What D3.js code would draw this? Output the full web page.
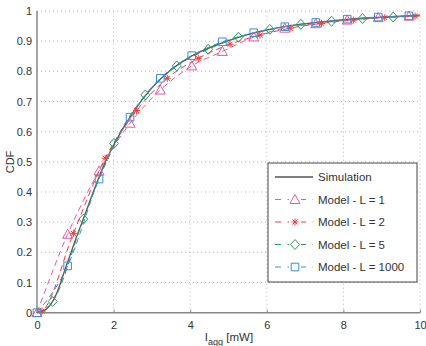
<!DOCTYPE html>
<html><head><meta charset="utf-8">
<script src="https://cdn.jsdelivr.net/npm/d3@7"></script>
<style>body{margin:0;background:#fff}svg{display:block}text{font-family:"Liberation Sans",Arial,Helvetica,sans-serif}</style>
</head><body>
<svg id="c" width="426" height="346"></svg>
<script>
const xTicks = [0, 2, 4, 6, 8, 10];
const yTicks = [0, 0.1, 0.2, 0.3, 0.4, 0.5, 0.6, 0.7, 0.8, 0.9, 1];

const simX = [0, 0.25, 0.5, 0.75, 1.0, 1.25, 1.5, 1.75, 2.0, 2.5, 3.0, 3.5, 4.0, 4.5, 5.0, 5.5, 6.0, 6.5, 7.0, 7.5, 8.0, 8.5, 9.0, 9.5, 10];
const simY = [0, 0.012, 0.06, 0.15, 0.24, 0.325, 0.41, 0.49, 0.555, 0.662, 0.745, 0.805, 0.848, 0.878, 0.902, 0.922, 0.937, 0.949, 0.958, 0.965, 0.971, 0.976, 0.980, 0.983, 0.986];

const l1X = [0, 0.80, 1.62, 2.43, 3.22, 4.04, 4.84, 5.66, 6.47, 7.28, 8.10, 8.91, 9.71];
const l1Y = [0, 0.26, 0.47, 0.628, 0.738, 0.818, 0.866, 0.914, 0.943, 0.958, 0.970, 0.978, 0.983];
const l2X = [0.13, 0.95, 1.78, 2.60, 3.40, 4.21, 5.04, 5.82, 6.61, 7.43, 8.26, 9.08, 9.87];
const l2Y = [0.005, 0.263, 0.512, 0.670, 0.777, 0.843, 0.89, 0.920, 0.943, 0.959, 0.970, 0.978, 0.983];
const l5X = [0.41, 1.21, 2.01, 2.83, 3.65, 4.47, 5.26, 6.08, 6.89, 7.69, 8.50, 9.30];
const l5Y = [0.037, 0.31, 0.561, 0.722, 0.818, 0.873, 0.913, 0.939, 0.956, 0.966, 0.975, 0.980];
const l1000X = [0, 0.80, 1.62, 2.43, 3.22, 4.04, 4.84, 5.66, 6.47, 7.28, 8.10, 8.91, 9.71];
const l1000Y = [0, 0.155, 0.443, 0.648, 0.777, 0.852, 0.898, 0.928, 0.948, 0.962, 0.973, 0.980, 0.984];
// line end values at x = 10
const endAt10 = [0.985, 0.985, 0.984, 0.986];

const names = ["Simulation", "Model - L = 1", "Model - L = 2", "Model - L = 5", "Model - L = 1000"];
const colors = ["#555555", "#e55aa2", "#ee3a3a", "#2e9a5a", "#3a8fd6"];
const shapes = [null, "triangle", "star", "diamond", "square"];

const svg = d3.select("#c");
const x = d3.scaleLinear().domain([0, 10]).range([37, 420]);
const y = d3.scaleLinear().domain([0, 1]).range([312.7, 11]);

// grid
const g = svg.append("g");
g.selectAll(".gx").data(xTicks.filter(d => d > 0)).enter().append("line")
  .attr("x1", d => x(d)).attr("x2", d => x(d)).attr("y1", y(0)).attr("y2", y(1))
  .attr("stroke", "#b8b8b8").attr("stroke-width", 1).attr("stroke-dasharray", "1,3");
g.selectAll(".gy").data(yTicks.filter(d => d > 0)).enter().append("line")
  .attr("x1", x(0)).attr("x2", x(10)).attr("y1", d => y(d)).attr("y2", d => y(d))
  .attr("stroke", "#b8b8b8").attr("stroke-width", 1).attr("stroke-dasharray", "1,3");

// axes
const xAxis = d3.axisBottom(x).tickValues(xTicks).tickSize(3).tickFormat(d3.format("d"));
const yAxis = d3.axisLeft(y).tickValues(yTicks).tickSize(0).tickPadding(5).tickFormat(d => d === 0 ? "0" : d === 1 ? "1" : d3.format(".1f")(d));
const gx = svg.append("g").attr("transform", `translate(0,${y(0)})`).call(xAxis);
const gy = svg.append("g").attr("transform", `translate(${x(0)},0)`).call(yAxis);
gx.selectAll(".tick line").attr("y2", -3).attr("stroke", "#888");
[gx, gy].forEach(a => {
  a.select(".domain").attr("stroke", "#888").attr("stroke-width", 1.5);
  a.selectAll("text").attr("fill", "#333").style("font-size", "11px").style("font-family", "Liberation Sans, Arial, sans-serif");
});
gx.selectAll("text").attr("dy", "0.9em");
gx.select(".domain").attr("d", `M${x(0)},0H${x(10)}`);
gy.select(".domain").attr("d", `M0,${y(0)}V${y(1)}`);

// axis labels
svg.append("text").attr("transform", "translate(14,162) rotate(-90)").attr("text-anchor", "middle")
  .attr("fill", "#333").style("font-size", "11px").text("CDF");
const xl = svg.append("text").attr("x", 229).attr("y", 341).attr("text-anchor", "middle")
  .attr("fill", "#333").style("font-size", "11.5px");
xl.append("tspan").text("I");
xl.append("tspan").attr("dy", 4).style("font-size", "9px").text("agg");
xl.append("tspan").attr("dy", -4).text(" [mW]");

// marker symbols
function symPath(shape) {
  if (shape === "triangle") return "M0,-5L5,4L-5,4Z";
  if (shape === "square") return "M-3.8,-3.8H3.8V3.8H-3.8Z";
  if (shape === "diamond") return "M0,-5L4.5,0L0,5L-4.5,0Z";
  if (shape === "star") return "M-3.5,0H3.5M0,-3.5V3.5M-2.5,-2.5L2.5,2.5M-2.5,2.5L2.5,-2.5";
  return "";
}

const line = d3.line().x(d => x(d[0])).y(d => y(d[1])).curve(d3.curveMonotoneX);
const plot = svg.append("g");

// simulation
plot.append("path").datum(d3.zip(simX, simY)).attr("d", line)
  .attr("fill", "none").attr("stroke", colors[0]).attr("stroke-width", 1.3);

const models = [[l1X, l1Y], [l2X, l2Y], [l5X, l5Y], [l1000X, l1000Y]];
models.forEach((m, i) => {
  let pts = d3.zip(m[0], m[1]);
  if (pts[0][0] > 0) pts = [[0, 0]].concat(pts);
  pts = pts.concat([[10, endAt10[i]]]);
  plot.append("path").datum(pts).attr("d", line)
    .attr("fill", "none").attr("stroke", colors[i + 1]).attr("stroke-width", 1).attr("stroke-dasharray", "6,4");
});
models.forEach((m, i) => {
  plot.selectAll(null).data(d3.zip(m[0], m[1])).enter().append("path")
    .attr("transform", d => `translate(${x(d[0])},${y(d[1])})`)
    .attr("d", symPath(shapes[i + 1]))
    .attr("fill", "none").attr("stroke", colors[i + 1]).attr("stroke-width", 1);
});

// legend
const lg = svg.append("g");
lg.append("rect").attr("x", 268).attr("y", 163).attr("width", 149).attr("height", 119)
  .attr("fill", "#fff").attr("stroke", "#444").attr("stroke-width", 1);
names.forEach((n, i) => {
  const yy = 177 + i * 22.5;
  const row = lg.append("g");
  if (i === 0) {
    row.append("line").attr("x1", 275).attr("x2", 313).attr("y1", yy).attr("y2", yy)
      .attr("stroke", colors[0]).attr("stroke-width", 1.3);
  } else {
    row.append("line").attr("x1", 275).attr("x2", 313).attr("y1", yy).attr("y2", yy)
      .attr("stroke", colors[i]).attr("stroke-width", 1).attr("stroke-dasharray", "6,6.5");
    row.append("rect").attr("x", 289).attr("y", yy - 5).attr("width", 12).attr("height", 10).attr("fill", "#fff");
    row.append("path").attr("transform", `translate(295,${yy})`).attr("d", symPath(shapes[i]))
      .attr("fill", "none").attr("stroke", colors[i]).attr("stroke-width", 1);
  }
  row.append("text").attr("x", 318).attr("y", yy + 4).attr("fill", "#333").style("font-size", "11.5px").text(n);
});
</script>
</body></html>
